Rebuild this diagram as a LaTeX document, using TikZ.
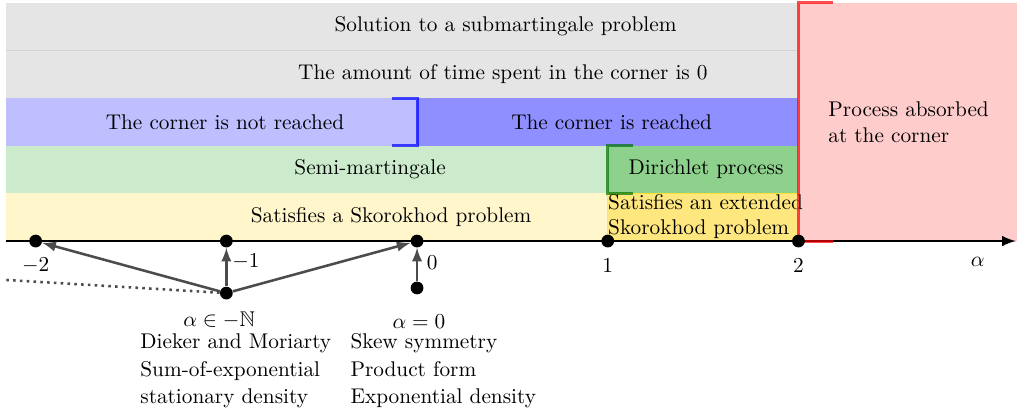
\documentclass[tikz,border=0pt]{standalone}
\usepackage{amsmath, amssymb}
\usepackage{tikz}
\usetikzlibrary{arrows, positioning}

\definecolor{lightyellow}{RGB}{255,246,204}
\definecolor{darkyellow}{RGB}{255,231,128}
\definecolor{lightgreen}{RGB}{204,235,204}
\definecolor{darkgreen}{RGB}{141,209,141}

\begin{document}
\begin{tikzpicture}[x=3.15cm, y=3.15cm, >=latex]
        % Define styles
        \tikzstyle{dot} = [circle, fill=black, inner sep=0pt, minimum size=6pt]
        \tikzstyle{pointer} = [->, draw=black!70, line width=1.2pt]
        \tikzstyle{bracket} = [line width=1.4pt, opacity=0.7]
        \tikzstyle{lefttext} = [anchor=west, inner sep=0pt, align=left]

        \useasboundingbox (-2.187,-0.912) rectangle (3.146,1.264);

        % Bands
        \fill[gray!20] (-2.155,0.75) rectangle (3.146,1.25);
        \draw[gray!35, thin] (-2.155,1) -- (2,1);
        \fill[blue!25] (-2.155,0.5) rectangle (0,0.75);
        \fill[blue!44] (0,0.5) rectangle (2,0.75);
        \fill[lightgreen] (-2.155,0.25) rectangle (1,0.5);
        \fill[darkgreen] (1,0.25) rectangle (2,0.5);
        \fill[lightyellow] (-2.155,0) rectangle (1,0.25);
        \fill[darkyellow] (1,0) rectangle (2,0.25);
        \draw[yellow!80!orange, semithick, opacity=0.6] (1,0) -- (1,0.25) -- (2,0.25);
        \fill[red!20] (2,0) rectangle (3.146,1.25);

        % Brackets
        \draw[bracket, blue] (-0.13,0.75) -- (0,0.75) -- (0,0.5) -- (-0.13,0.5);
        \draw[bracket, green!45!black] (1.13,0.5) -- (1,0.5) -- (1,0.25) -- (1.13,0.25);

        % Band texts
        \node (subm) at (0.464,1.125) {Solution to a submartingale problem};
        \node (time) at (0.45,0.875) {The amount of time spent in the corner is 0};
        \node (notreach) at (-1.007,0.625) {The corner is not reached};
        \node (reach) at (1.02,0.625) {The corner is reached};
        \node (semi) at (-0.246,0.375) {Semi-martingale};
        \node (dirich) at (1.515,0.375) {Dirichlet process};
        \node (skor) at (-0.136,0.125) {Satisfies a Skorokhod problem};
        \node [lefttext] (extskor) at (1,0.128) {Satisfies an extended\\Skorokhod problem};
        \node [lefttext] (absorb) at (2.155,0.624) {Process absorbed\\at the corner};

        % Axis
        \coordinate (axstart) at (-2.155,0);
        \coordinate (axend) at (3.14,0);
        \draw [->, line width=1.2pt] (axstart) -- (axend);
        \draw[bracket, red] (2.18,1.25) -- (2,1.25) -- (2,0) -- (2.18,0);

        % Points
        \node [dot] (m2) at (-2,0) {};
        \node [dot] (m1) at (-1,0) {};
        \node [dot] (z) at (0,0) {};
        \node [dot] (p1) at (1,0) {};
        \node [dot] (p2) at (2,0) {};
        \node [dot] (neg) at (-1,-0.273) {};
        \node [dot] (zero) at (0,-0.246) {};
        \coordinate (far) at (-2.155,-0.204);

        % Tick labels
        \node at (-2,-0.126) {$-2$};
        \node at (-0.897,-0.11) {$-1$};
        \node at (0.079,-0.115) {$0$};
        \node at (1,-0.13) {$1$};
        \node at (2,-0.13) {$2$};
        \node at (2.94,-0.11) {$\alpha$};

        % Connectors
        \draw [pointer] (neg) -- (m2);
        \draw [pointer] (neg) -- (m1);
        \draw [pointer] (neg) -- (z);
        \draw [pointer] (zero) -- (z);
        \draw [black!70, line width=1.2pt, dotted] (neg) -- (far);

        % Descriptions
        \node (negcase) at (-1.038,-0.414) {$\alpha\in-\mathbb{N}$};
        \node [lefttext] (negtext) at (-1.453,-0.681) {Dieker and Moriarty\\[1pt]Sum-of-exponential\\[1pt]stationary density};
        \node (zerocase) at (0.01,-0.425) {$\alpha=0$};
        \node [lefttext] (zerotext) at (-0.351,-0.68) {Skew symmetry\\[1pt]Product form\\[1pt]Exponential density};
\end{tikzpicture}
\end{document}
